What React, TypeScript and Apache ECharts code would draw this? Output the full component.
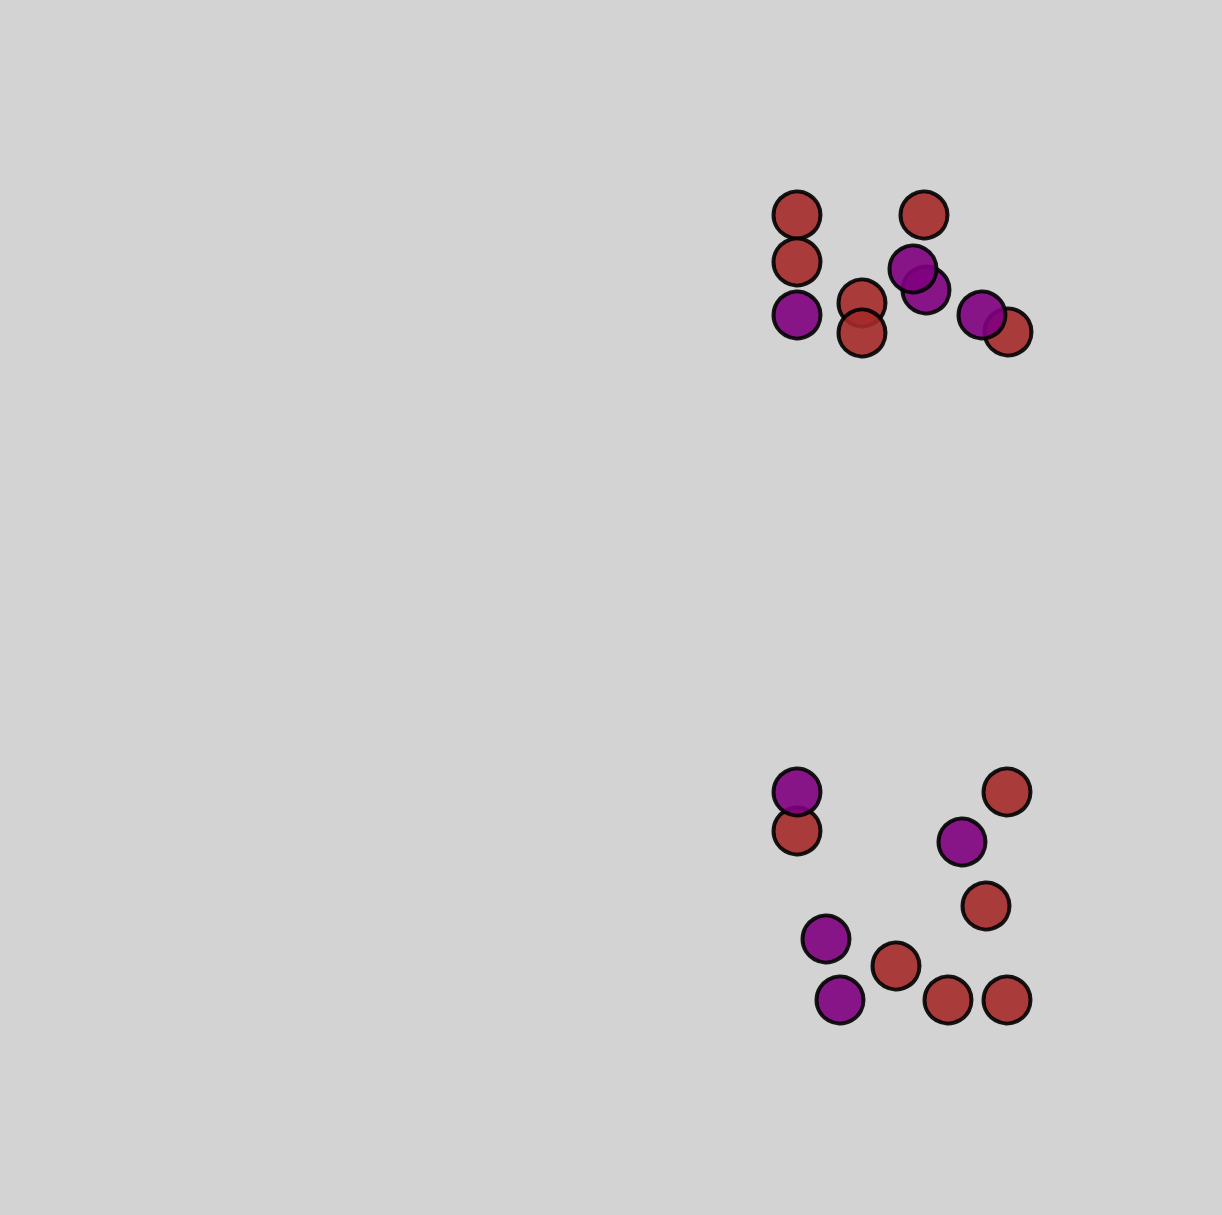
import React, { useEffect, useRef } from "react";
import * as echarts from "echarts";

// Data space: x from 0 to 1222, y from 0 to 1215 (measured downward)
const redX = [797, 797, 924, 862, 862, 1008, 797, 1007, 986, 896, 948, 1007];
const redY = [215, 262, 215, 303, 333, 332, 831, 792, 906, 966, 1000, 1000];
const purpleX = [797, 926, 913, 982, 797, 962, 826, 840];
const purpleY = [315, 290, 269, 315, 792, 842, 939, 1000];

const X_MAX = 1222;
const Y_MAX = 1215;

export default function App() {
  const ref = useRef<HTMLDivElement>(null);
  useEffect(() => {
    document.body.style.margin = "0";
    document.body.style.background = "#d3d3d3";
    const chart = echarts.init(ref.current!, null, { renderer: "svg" });
    const pairs = (xs: number[], ys: number[]) => xs.map((x, i) => [x, ys[i]]);
    const common = {
      type: "scatter" as const,
      symbol: "circle",
      symbolSize: 47,
      silent: true,
    };
    chart.setOption({
      animation: false,
      backgroundColor: "#d3d3d3",
      grid: { left: 0, right: 0, top: 0, bottom: 0 },
      xAxis: { type: "value", min: 0, max: X_MAX, show: false },
      yAxis: { type: "value", min: 0, max: Y_MAX, inverse: true, show: false },
      series: [
        {
          ...common,
          data: pairs(redX, redY),
          itemStyle: { color: "#a52a2a", opacity: 0.9, borderColor: "#000", borderWidth: 4 },
        },
        {
          ...common,
          data: pairs(purpleX, purpleY),
          itemStyle: { color: "#800080", opacity: 0.9, borderColor: "#000", borderWidth: 4 },
        },
      ],
    });
    return () => chart.dispose();
  }, []);
  return <div ref={ref} style={{ width: 1222, height: 1215 }} />;
}
